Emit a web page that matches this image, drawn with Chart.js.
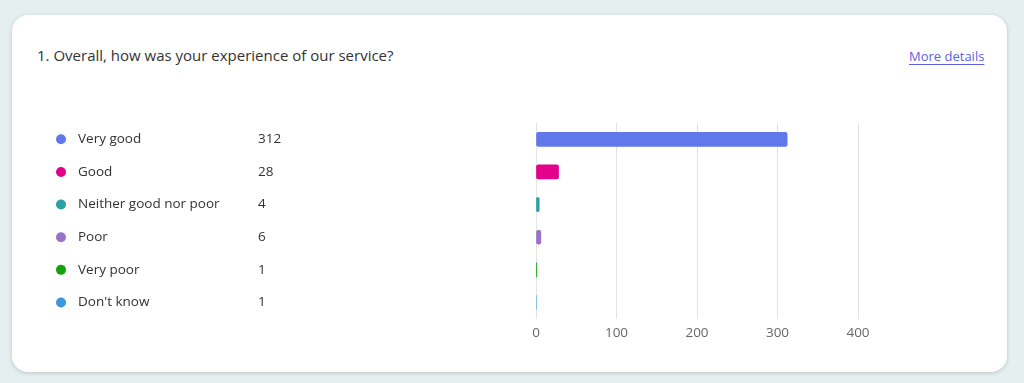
<!DOCTYPE html>
<html>
<head>
<meta charset="utf-8">
<script src="https://cdn.jsdelivr.net/npm/chart.js@4/dist/chart.umd.min.js"></script>
<style>
  html, body { margin:0; padding:0; width:1024px; height:383px; overflow:hidden; background:#e6eff0; font-family:"Open Sans", "Noto Sans", sans-serif; }
  .card { position:absolute; left:12px; top:15px; width:995px; height:357px; background:#fff; border-radius:16px; box-shadow:0 1px 4px rgba(0,0,0,0.18); }
  .title { position:absolute; left:37px; top:45px; font-size:15px; color:#333; }
  .more { position:absolute; left:909px; top:47px; font-size:13px; color:#5b5fe6; text-decoration:underline; text-underline-offset:3px; }
  canvas { position:absolute; left:0; top:0; }
</style>
</head>
<body>
<div class="card"></div>
<div class="title">1. Overall, how was your experience of our service?</div>
<div class="more">More details</div>
<canvas id="c" width="1024" height="383"></canvas>
<script>
const categories = ["Very good", "Good", "Neither good nor poor", "Poor", "Very poor", "Don't know"];
const counts = [312, 28, 4, 6, 1, 1];
const dotColors = ["#6078ea", "#e3008c", "#2aa0a4", "#9a72c6", "#13a10e", "#3a96dd"];
const barColors = ["#6078ea", "#e3008c", "#2aa0a4", "#9a72c6", "#13a10e", "#7cb8e8"];
const tickValues = [0, 100, 200, 300, 400];

const legendPlugin = {
  id: 'sideLegend',
  afterDraw(chart) {
    const ctx = chart.ctx;
    const y = chart.scales.y;
    ctx.save();
    ctx.font = "13.5px 'Open Sans', 'Noto Sans', sans-serif";
    ctx.textBaseline = 'middle';
    categories.forEach((c, i) => {
      const py = y.getPixelForValue(i);
      ctx.beginPath();
      ctx.fillStyle = dotColors[i];
      ctx.arc(61, py, 5, 0, Math.PI * 2);
      ctx.fill();
      ctx.fillStyle = '#333';
      ctx.textAlign = 'left';
      ctx.fillText(c, 78, py);
      ctx.fillText(String(counts[i]), 258, py);
    });
    ctx.restore();
  }
};

new Chart(document.getElementById('c'), {
  type: 'bar',
  data: {
    labels: categories,
    datasets: [{
      data: counts,
      backgroundColor: barColors,
      barThickness: 14,
      borderRadius: 2,
      borderSkipped: false
    }]
  },
  options: {
    indexAxis: 'y',
    responsive: false,
    animation: false,
    layout: { padding: { left: 536, right: 166, top: 123, bottom: 36 } },
    plugins: { legend: { display: false }, tooltip: { enabled: false } },
    scales: {
      y: { display: false },
      x: {
        min: 0, max: 400,
        afterBuildTicks(scale) { scale.ticks = tickValues.map(v => ({ value: v })); },
        grid: { color: '#e3e3e3', drawTicks: false },
        border: { display: false },
        ticks: { padding: 6, color: '#666', font: { family: "'Open Sans', 'Noto Sans', sans-serif", size: 13.5 } }
      }
    }
  },
  plugins: [legendPlugin]
});
</script>
</body>
</html>
